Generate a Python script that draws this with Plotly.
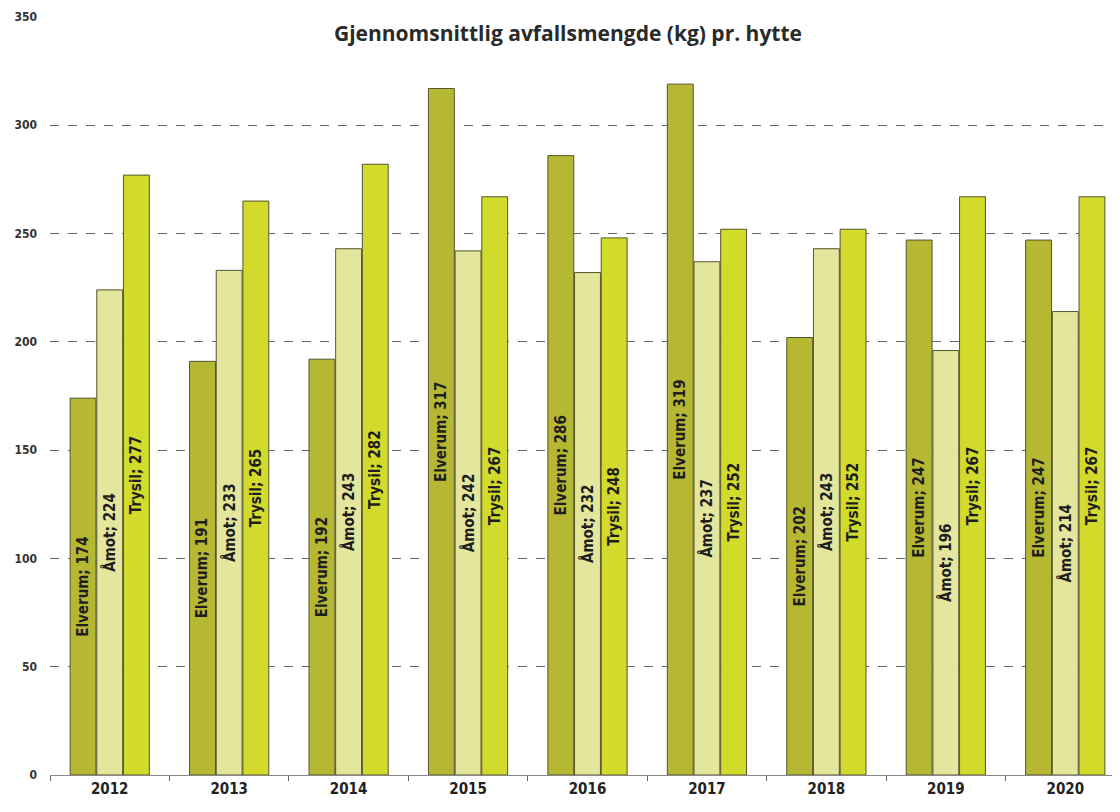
import plotly.graph_objects as go

years = ["2012", "2013", "2014", "2015", "2016", "2017", "2018", "2019", "2020"]
elverum = [174, 191, 192, 317, 286, 319, 202, 247, 247]
amot = [224, 233, 243, 242, 232, 237, 243, 196, 214]
trysil = [277, 265, 282, 267, 248, 252, 252, 267, 267]

series = [
    ("Elverum", elverum, "#b6b834"),
    ("Åmot", amot, "#e3e69c"),
    ("Trysil", trysil, "#d2da2c"),
]

fig = go.Figure()
for name, vals, col in series:
    fig.add_trace(go.Bar(
        x=years, y=vals, name=name,
        marker=dict(color=col, line=dict(color="#55552e", width=1)),
        text=[f"{name}; {v}" for v in vals],
        textposition="inside", insidetextanchor="middle",
        textangle=-90,
        textfont=dict(family="DejaVu Sans Condensed, Liberation Sans Narrow", size=15, color="#1e1e1e", weight="bold"),
        constraintext="none",
        showlegend=False,
    ))

fig.update_layout(
    width=1120, height=812,
    margin=dict(l=42, r=3, t=9, b=45),
    paper_bgcolor="white", plot_bgcolor="white",
    barmode="group", bargap=0.33, bargroupgap=0.03,
    title=dict(text="<b>Gjennomsnittlig avfallsmengde (kg) pr. hytte</b>",
               x=0.5, xanchor="center", y=0.969, yanchor="middle",
               font=dict(family="Open Sans, DejaVu Sans", size=21, color="#2a2a2a")),
    font=dict(family="DejaVu Sans Condensed", color="#333"),
    uniformtext=dict(minsize=11, mode="show"),
)
fig.update_yaxes(range=[0, 350], dtick=50, showgrid=True, gridcolor="#666",
                 griddash="dash", gridwidth=1, zeroline=False, automargin=False,
                 tickfont=dict(size=12, color="#333", weight="bold"), ticks="", ticklabelstandoff=12)
fig.update_xaxes(range=[-0.5, 8.5], showline=True, linecolor="#888", ticks="outside",
                 tickson="boundaries", ticklen=5, tickcolor="#666", automargin=False,
                 tickfont=dict(family="DejaVu Sans Condensed", size=15, color="#222", weight="bold"))

fig.write_html("out.html")
